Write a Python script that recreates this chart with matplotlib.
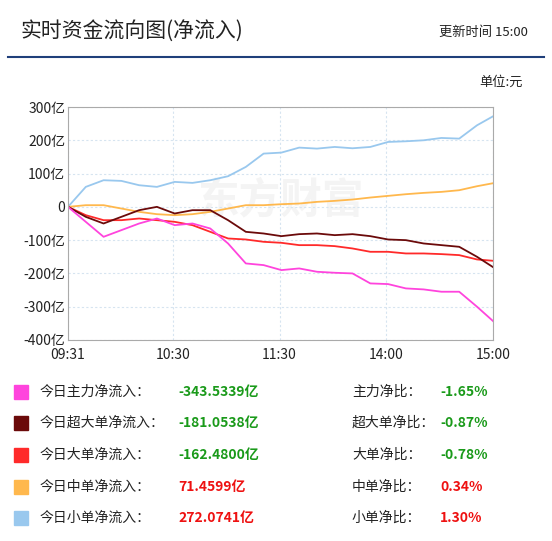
import matplotlib
matplotlib.use("Agg")
import matplotlib.pyplot as plt
import numpy as np

plt.rcParams['font.family'] = ['Noto Sans CJK SC', 'DejaVu Sans']

minutes = [0,10,20,30,40,50,60,70,80,90,100,110,120,130,140,150,160,170,180,190,200,210,220,230,239]
small = [0,60,80,78,65,60,75,72,80,92,120,160,163,178,175,180,176,180,195,197,200,207,205,245,272]
mid = [0,5,5,-5,-15,-22,-25,-22,-15,-5,5,5,8,10,15,18,22,28,33,38,42,45,50,62,71]
super_ = [0,-30,-50,-30,-10,0,-20,-10,-10,-40,-75,-80,-88,-82,-80,-85,-82,-88,-98,-100,-110,-115,-120,-150,-181]
large = [0,-25,-40,-40,-35,-40,-45,-55,-75,-95,-98,-105,-108,-115,-115,-118,-125,-135,-135,-140,-140,-142,-145,-158,-162]
main = [0,-45,-90,-70,-50,-35,-55,-50,-65,-110,-170,-175,-190,-185,-195,-198,-200,-230,-232,-245,-248,-255,-255,-300,-343]

xticks = [0,59,119,179,239]
xlabels = ['09:31','10:30','11:30','14:00','15:00']
yticks = [300,200,100,0,-100,-200,-300,-400]
ylabels = ['300亿','200亿','100亿','0','-100亿','-200亿','-300亿','-400亿']

names = ['今日主力净流入：','今日超大单净流入：','今日大单净流入：','今日中单净流入：','今日小单净流入：']
vals = ['-343.5339亿','-181.0538亿','-162.4800亿','71.4599亿','272.0741亿']
rnames = ['主力净比：','超大单净比：','大单净比：','中单净比：','小单净比：']
ratios = ['-1.65%','-0.87%','-0.78%','0.34%','1.30%']
colors = ['#ff44dd','#6b0a0a','#ff2a2a','#ffb84d','#99c8ee']
series = [main, super_, large, mid, small]

fig = plt.figure(figsize=(5.52,5.41), dpi=100)
W,H = 552,541
def fx(x): return x/W
def fy(y): return 1-y/H

fig.text(fx(20), fy(32), '实时资金流向图(净流入)', fontsize=15, va='center', color='#222')
fig.text(fx(528), fy(32), '更新时间 15:00', fontsize=9.5, va='center', ha='right', color='#222')
fig.add_artist(plt.Line2D([fx(8),fx(544)],[fy(57),fy(57)], color='#1f3f7a', lw=1.5))
fig.text(fx(523), fy(82), '单位:元', fontsize=9.5, va='center', ha='right', color='#222')

ax = fig.add_axes([fx(68), fy(340), fx(493-68), (340-107)/H])
ax.text(0.5,0.6,'东方财富', transform=ax.transAxes, fontsize=30, color='#f4f4f4', ha='center', va='center', fontweight='bold', zorder=0)
for s,c in zip(series[::-1], colors[::-1]):
    ax.plot(minutes, s, color=c, lw=1.3, zorder=2)
ax.set_xlim(0,239); ax.set_ylim(-400,300)
ax.set_xticks(xticks); ax.set_xticklabels(xlabels, fontsize=10)
ax.set_yticks(yticks); ax.set_yticklabels(ylabels, fontsize=10)
ax.tick_params(length=0, pad=2, colors='#222')
ax.tick_params(axis='x', pad=6)
ax.grid(True, color='#d6e4f0', ls=(0,(2,2)), lw=0.8)
for sp in ax.spines.values(): sp.set_color('#aaaaaa')

rows = [392,423,455,487,518]
for y,n,v,rn,r,c in zip(rows,names,vals,rnames,ratios,colors):
    fig.add_artist(plt.Rectangle((fx(14),fy(y+7)),fx(14),14/H,color=c))
    vc = '#1a9a1a' if v.startswith('-') else '#ee1111'
    fig.text(fx(40), fy(y), n, fontsize=10, va='center', color='#222')
    fig.text(fx(178), fy(y), v, fontsize=10, va='center', color=vc, fontweight='bold')
    fig.text(fx(352), fy(y), rn, fontsize=10, va='center', color='#222')
    fig.text(fx(440), fy(y), r, fontsize=10, va='center', color=vc, fontweight='bold')

fig.savefig('out.png', dpi=100)
